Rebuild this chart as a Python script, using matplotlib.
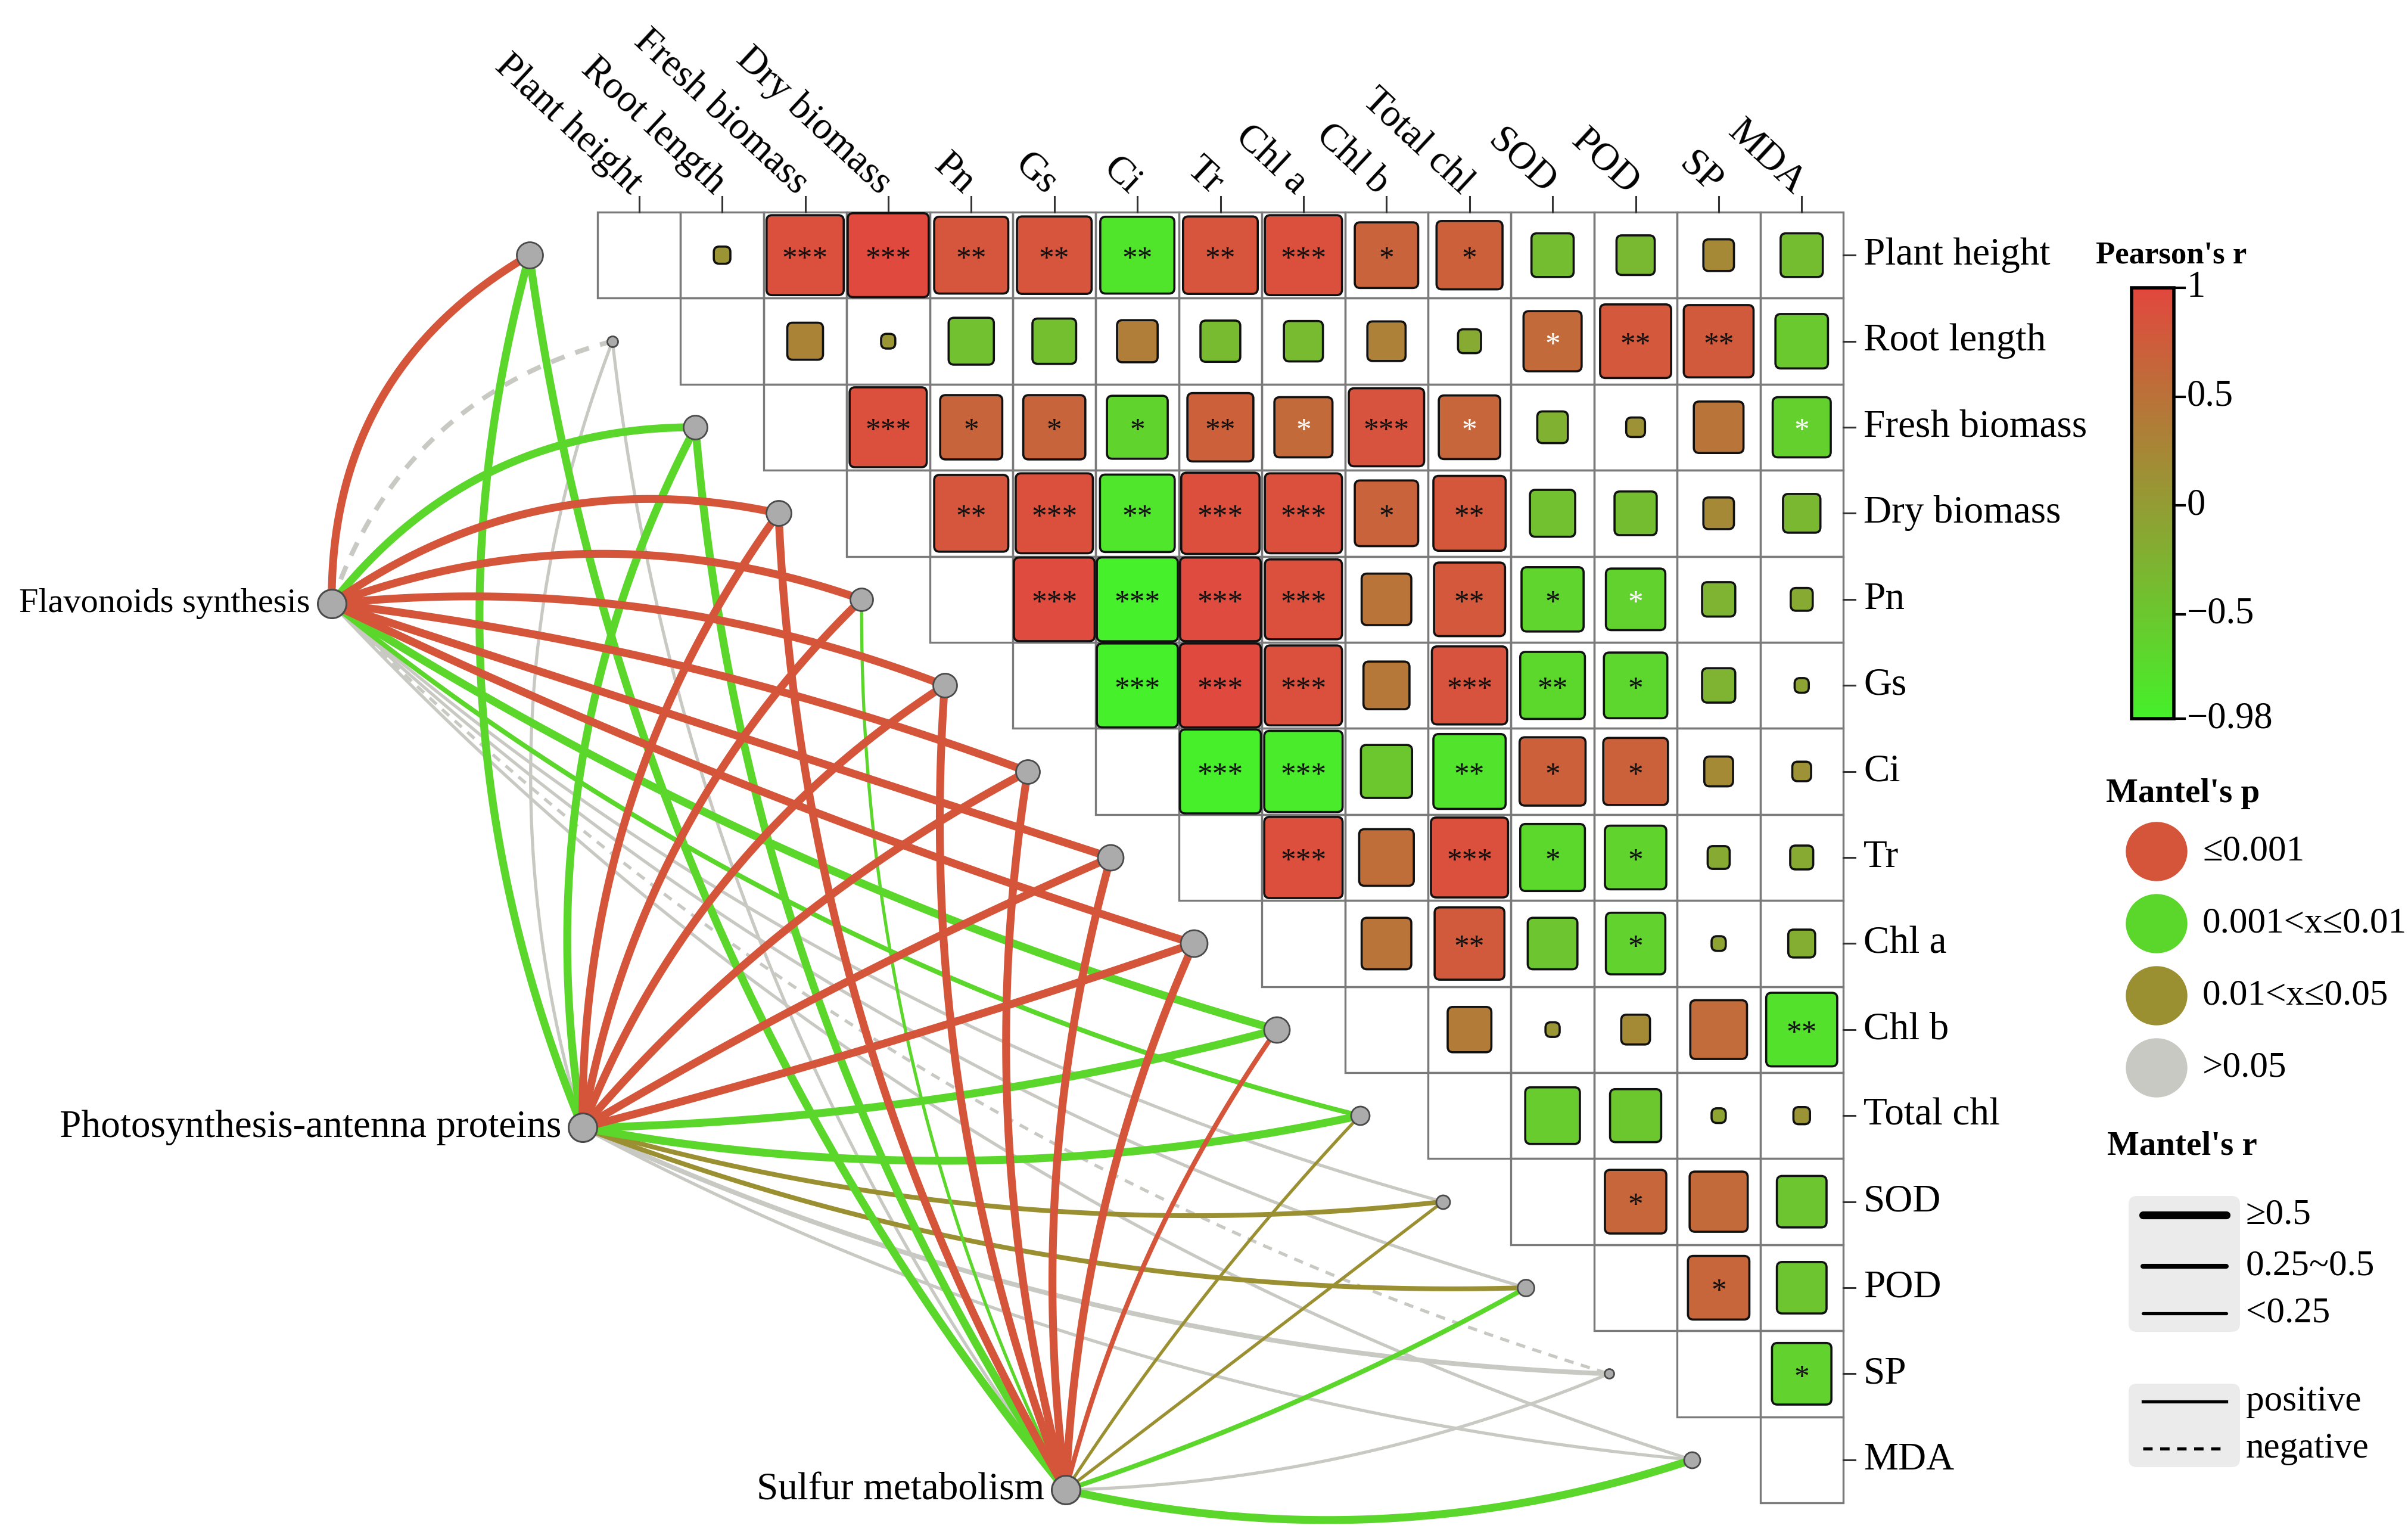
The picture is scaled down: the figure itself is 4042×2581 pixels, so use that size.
import numpy as np
import matplotlib
matplotlib.use("Agg")
import matplotlib.pyplot as plt
from matplotlib.patches import Rectangle, FancyBboxPatch, Ellipse
from matplotlib.colors import LinearSegmentedColormap, Normalize

plt.rcParams['font.family'] = ['Liberation Serif', 'DejaVu Serif']

# ---------------- data ----------------
variables = ['Plant height', 'Root length', 'Fresh biomass', 'Dry biomass', 'Pn', 'Gs', 'Ci',
             'Tr', 'Chl a', 'Chl b', 'Total chl', 'SOD', 'POD', 'SP', 'MDA']

# Pearson's r, upper triangle (row i, columns i+1 .. 14)
pearson_r = [
    [0.10, 0.90, 0.97, 0.85, 0.86, -0.85, 0.86, 0.90, 0.68, 0.72, -0.38, -0.33, 0.24, -0.38],
    [0.30, 0.08, -0.42, -0.40, 0.36, -0.35, -0.34, 0.33, -0.16, 0.60, 0.80, 0.78, -0.52],
    [0.90, 0.66, 0.66, -0.64, 0.72, 0.60, 0.87, 0.65, -0.24, 0.12, 0.48, -0.60],
    [0.85, 0.90, -0.86, 0.92, 0.90, 0.68, 0.82, -0.42, -0.38, 0.24, -0.32],
    [0.96, -0.98, 0.96, 0.90, 0.48, 0.80, -0.66, -0.62, -0.27, -0.15],
    [-0.98, 0.97, 0.90, 0.43, 0.87, -0.70, -0.68, -0.27, -0.08],
    [-0.97, -0.92, -0.50, -0.82, 0.72, 0.70, 0.22, 0.12],
    [0.92, 0.55, 0.90, -0.70, -0.65, -0.15, -0.16],
    [0.48, 0.78, -0.48, -0.62, -0.08, -0.20],
    [0.40, 0.08, 0.22, 0.58, -0.80],
    [-0.55, -0.50, -0.08, 0.10],
    [0.65, 0.60, -0.48],
    [0.65, -0.48],
    [-0.62],
]

signif = [
    ['', '***', '***', '**', '**', '**', '**', '***', '*', '*', '', '', '', ''],
    ['', '', '', '', '', '', '', '', '', '*', '**', '**', ''],
    ['***', '*', '*', '*', '**', '*', '***', '*', '', '', '', '*'],
    ['**', '***', '**', '***', '***', '*', '**', '', '', '', ''],
    ['***', '***', '***', '***', '', '**', '*', '*', '', ''],
    ['***', '***', '***', '', '***', '**', '*', '', ''],
    ['***', '***', '', '**', '*', '*', '', ''],
    ['***', '', '***', '*', '*', '', ''],
    ['', '**', '', '*', '', ''],
    ['', '', '', '', '**'],
    ['', '', '', ''],
    ['*', '', ''],
    ['*', ''],
    ['*'],
]
# cells whose star is printed in white (row, column)
white_stars = [(1, 11), (2, 8), (2, 10), (2, 14), (4, 12)]

envs = ['Flavonoids synthesis', 'Photosynthesis-antenna proteins', 'Sulfur metabolism']

# Mantel test classes for each env -> variable link
# p class: 'a' <=0.001, 'b' 0.001<x<=0.01, 'c' 0.01<x<=0.05, 'd' >0.05
mantel_p = {
    'Flavonoids synthesis':            ['a', 'd', 'b', 'a', 'a', 'a', 'a', 'a', 'a', 'b', 'b', 'd', 'd', 'd', 'd'],
    'Photosynthesis-antenna proteins': ['b', 'd', 'b', 'a', 'a', 'a', 'a', 'a', 'a', 'b', 'b', 'c', 'c', 'd', 'd'],
    'Sulfur metabolism':               ['b', 'd', 'b', 'a', 'b', 'a', 'a', 'a', 'a', 'a', 'c', 'c', 'b', 'd', 'b'],
}
# r class: 3 >=0.5, 2 0.25~0.5, 1 <0.25
mantel_r = {
    'Flavonoids synthesis':            [3, 2, 3, 3, 3, 3, 3, 3, 3, 3, 2, 1, 1, 1, 1],
    'Photosynthesis-antenna proteins': [3, 1, 3, 3, 3, 3, 3, 3, 3, 3, 3, 2, 2, 2, 1],
    'Sulfur metabolism':               [3, 1, 3, 3, 1, 3, 3, 3, 3, 2, 1, 1, 2, 1, 3],
}
# sign of Mantel's r (+1 positive, -1 negative)
mantel_sign = {
    'Flavonoids synthesis':            [1, -1, 1, 1, 1, 1, 1, 1, 1, 1, 1, 1, 1, -1, 1],
    'Photosynthesis-antenna proteins': [1, 1, 1, 1, 1, 1, 1, 1, 1, 1, 1, 1, 1, 1, 1],
    'Sulfur metabolism':               [1, 1, 1, 1, 1, 1, 1, 1, 1, 1, 1, 1, 1, 1, 1],
}
# relative node size of each variable
node_size = [44, 18, 40, 42, 38, 40, 40, 43, 45, 43, 31, 23, 28, 16, 27]

# ---------------- styles / layout ----------------
W, H = 4042, 2581
fig = plt.figure(figsize=(W / 100, H / 100), dpi=100)
ax = fig.add_axes([0, 0, 1, 1])
ax.set_xlim(0, W)
ax.set_ylim(H, 0)
ax.axis('off')

X0, Y0, CW, CH = 1003, 356, 139.4, 144.4
n = len(variables)
cmap = LinearSegmentedColormap.from_list('gr', ['#46F02A', '#E2483E'])
norm = Normalize(-0.98, 1)
FS = 47

p_colors = {'a': '#D4553A', 'b': '#5BD62A', 'c': '#9B9031', 'd': '#C9C9C4'}
p_labels = {'a': '≤0.001', 'b': '0.001<x≤0.01', 'c': '0.01<x≤0.05', 'd': '>0.05'}
r_width = {3: 9.5, 2: 5.8, 1: 3.8}

# ---------- matrix ----------
for i in range(n):
    for j in range(i, n):
        x = X0 + j * CW
        y = Y0 + i * CH
        ax.add_patch(Rectangle((x, y), CW, CH, fill=False, ec='#7a7a7a', lw=2.4, zorder=2))
        if j > i:
            r = pearson_r[i][j - i - 1]
            s = min(0.975, abs(r) ** 0.7)
            w, h = s * CW, s * CH
            cx, cy = x + CW / 2, y + CH / 2
            ax.add_patch(FancyBboxPatch((cx - w / 2, cy - h / 2), w, h,
                                        boxstyle='round,pad=0,rounding_size=9',
                                        fc=cmap(norm(r)), ec='#111111', lw=2.6, zorder=3))
            st = signif[i][j - i - 1]
            if st:
                col = 'white' if (i, j) in white_stars else '#111111'
                ax.text(cx, cy + 0.05 * CH, st, ha='center', va='center', fontsize=37,
                        color=col, zorder=4)

# right labels and ticks
for i, v in enumerate(variables):
    yc = Y0 + (i + 0.5) * CH
    ax.plot([X0 + n * CW, X0 + n * CW + 20], [yc, yc], color='#333333', lw=2.2, zorder=2)
    ax.text(X0 + n * CW + 34, yc, v, ha='left', va='center', fontsize=FS)

# top labels and ticks
for j, v in enumerate(variables):
    xc = X0 + (j + 0.5) * CW
    ax.plot([xc, xc], [Y0 - 26, Y0], color='#333333', lw=2.2, zorder=2)
    ax.text(xc - 4, Y0 - 40, v, ha='right', va='center', rotation=-43,
            rotation_mode='anchor', fontsize=FS)

# ---------- network ----------
var_xy = [(X0 + (i - 0.82) * CW, Y0 + (i + 0.5) * CH) for i in range(n)]
env_xy = {
    'Flavonoids synthesis': (X0 - 3.2 * CW, Y0 + 4.55 * CH),
    'Photosynthesis-antenna proteins': (X0 - 0.18 * CW, Y0 + 10.64 * CH),
    'Sulfur metabolism': (X0 + 5.64 * CW, Y0 + 14.85 * CH),
}
env_fs = {'Flavonoids synthesis': 42, 'Photosynthesis-antenna proteins': 47, 'Sulfur metabolism': 47}
curv_knots = {
    'Flavonoids synthesis': ([0, 3, 4, 7, 10, 14], [-0.29, -0.22, -0.18, 0.0, 0.11, 0.13]),
    'Photosynthesis-antenna proteins': ([0, 5, 7.5, 10, 14], [-0.17, -0.16, 0.0, 0.10, 0.10]),
    'Sulfur metabolism': ([0, 9, 11, 14], [-0.14, -0.09, 0.0, 0.14]),
}


def curve(p0, p1, c, npts=120):
    x0, y0 = p0[0], -p0[1]
    x1, y1 = p1[0], -p1[1]
    dx, dy = x1 - x0, y1 - y0
    mx, my = (x0 + x1) / 2, (y0 + y1) / 2
    qx, qy = mx + c * dy, my - c * dx
    t = np.linspace(0, 1, npts)
    X = (1 - t) ** 2 * x0 + 2 * (1 - t) * t * qx + t ** 2 * x1
    Y = (1 - t) ** 2 * y0 + 2 * (1 - t) * t * qy + t ** 2 * y1
    return X, -Y


order = {'d': 0, 'c': 1, 'b': 2, 'a': 3}
links = []
for e in envs:
    kx, ky = curv_knots[e]
    for i in range(n):
        links.append((order[mantel_p[e][i]], e, i, float(np.interp(i, kx, ky))))
links.sort(key=lambda z: z[0])
for _, e, i, c in links:
    X, Y = curve(env_xy[e], var_xy[i], c)
    pc = mantel_p[e][i]
    ls = '-' if mantel_sign[e][i] > 0 else (0, (3.0, 2.4))
    ax.plot(X, Y, color=p_colors[pc], lw=r_width[mantel_r[e][i]], ls=ls,
            solid_capstyle='butt', zorder=5 + order[pc] * 0.1)

for i in range(n):
    ax.scatter(*var_xy[i], s=(node_size[i] * 0.72) ** 2, color='#ABABAB',
               edgecolor='#4a4a4a', lw=2.0, zorder=8)
for e in envs:
    ex, ey = env_xy[e]
    ax.scatter(ex, ey, s=(48 * 0.72) ** 2, color='#ABABAB', edgecolor='#4a4a4a', lw=2.2, zorder=8)
    ax.text(ex - 36, ey, e, ha='right', va='center', fontsize=env_fs[e], zorder=9)

# ---------- colorbar ----------
cb_l, cb_r, cb_t, cb_b = 3578, 3649, 483, 1206
grad = np.linspace(1, -0.98, 300).reshape(-1, 1)
ax.imshow(grad, extent=(cb_l, cb_r, cb_b, cb_t), origin='upper', cmap=cmap, norm=norm,
          aspect='auto', zorder=3)
ax.add_patch(Rectangle((cb_l, cb_t), cb_r - cb_l, cb_b - cb_t, fill=False, ec='black', lw=4, zorder=4))
cb_ticks = [1, 0.5, 0, -0.5, -0.98]
cb_labels = ['1', '0.5', '0', '−0.5', '−0.98']
for v, lab in zip(cb_ticks, cb_labels):
    yy = cb_b - (v + 0.98) / 1.98 * (cb_b - cb_t)
    ax.plot([cb_r, cb_r + 18], [yy, yy], color='black', lw=3, zorder=4)
    ax.text(cb_r + 22, yy, lab, ha='left', va='center', fontsize=FS - 2)
ax.text(3645, 428, "Pearson's r", ha='center', va='center', fontsize=38, fontweight='bold')

# ---------- Mantel's p legend ----------
ax.text(3535, 1332, "Mantel's p", ha='left', va='center', fontsize=41, fontweight='bold')
for k, pc in enumerate(['a', 'b', 'c', 'd']):
    yy = 1429 + k * 121
    ax.add_patch(Ellipse((3620, yy), 102, 98, color=p_colors[pc], zorder=4))
    ax.text(3697, yy, p_labels[pc], ha='left', va='center', fontsize=FS - 3)

# ---------- Mantel's r legend ----------
ax.text(3537, 1924, "Mantel's r", ha='left', va='center', fontsize=41, fontweight='bold')
ax.add_patch(FancyBboxPatch((3573, 2007), 187, 228, boxstyle='round,pad=0,rounding_size=14',
                            fc='#EBEBEB', ec='none', zorder=2))
for yy, k, lab in zip([2039, 2125, 2204], [3, 2, 1], ['≥0.5', '0.25~0.5', '<0.25']):
    ax.plot([3597, 3737], [yy, yy], color='black', lw=r_width[k], solid_capstyle='round', zorder=3)
    ax.text(3770, yy, lab, ha='left', va='center', fontsize=FS - 3)
ax.add_patch(FancyBboxPatch((3573, 2322), 187, 140, boxstyle='round,pad=0,rounding_size=14',
                            fc='#EBEBEB', ec='none', zorder=2))
ax.plot([3597, 3737], [2352, 2352], color='black', lw=3.8, zorder=3)
ax.plot([3597, 3737], [2431, 2431], color='black', lw=3.8, ls=(0, (3.0, 2.4)), zorder=3)
ax.text(3770, 2352, 'positive', ha='left', va='center', fontsize=FS - 3)
ax.text(3770, 2431, 'negative', ha='left', va='center', fontsize=FS - 3)

fig.savefig('out.png', dpi=100, facecolor='white')
